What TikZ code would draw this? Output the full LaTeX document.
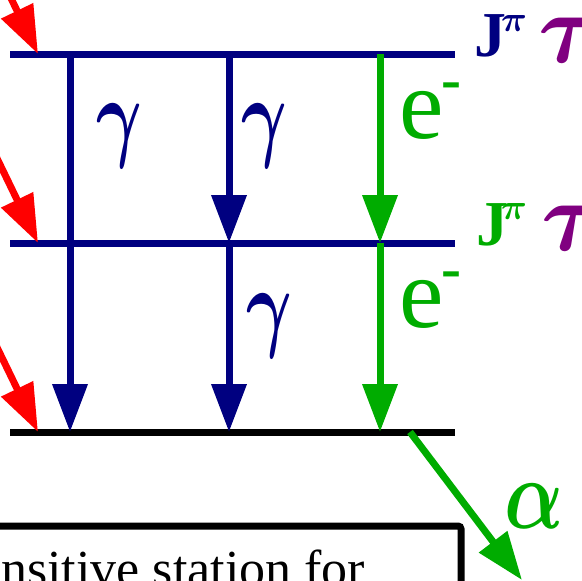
\RequirePackage{fix-cm}
\documentclass[tikz,border=0pt]{standalone}
\usepackage{bm}
\usepackage{graphicx}
\usepackage{fontspec}
\setmainfont{Liberation Serif}
\usetikzlibrary{arrows.meta}
\definecolor{navy}{RGB}{0,0,128}
\definecolor{grn}{RGB}{0,172,0}
\definecolor{purp}{RGB}{128,0,128}
\definecolor{rd}{RGB}{255,0,0}
\newcommand{\mygam}{\scalebox{0.7}[1]{$\bm{\gamma}$}}
\newcommand{\myalp}{\scalebox{0.78}[1]{$\bm{\alpha}$}}
\begin{document}
\begin{tikzpicture}[x=1pt,y=-1pt,
  level/.style={line width=7pt},
  tri/.style={line width=7pt,-{Triangle[length=48pt,width=34pt]}},
  big/.style={inner sep=0pt,anchor=base west,font=\fontsize{100}{100}\selectfont},
  sup/.style={inner sep=0pt,anchor=base west,font=\fontsize{60}{60}\selectfont\bfseries},
  jlab/.style={inner sep=0pt,anchor=base west,font=\fontsize{64}{64}\selectfont\bfseries},
  pilab/.style={inner sep=0pt,anchor=base west,font=\fontsize{36}{36}\selectfont},
  taulab/.style={inner sep=0pt,anchor=base west,font=\fontsize{100}{100}\selectfont}]
\useasboundingbox (0,0) rectangle (582,581);
\clip (0,0) rectangle (582,581);
% level coordinates
\coordinate (L1a) at (10,54);   \coordinate (L1b) at (455,54);
\coordinate (L2a) at (10,243);  \coordinate (L2b) at (455,243);
\coordinate (L3a) at (10,432);  \coordinate (L3b) at (455,432);
\coordinate (A1) at (70,54);    \coordinate (A3) at (70,432);
\coordinate (B1) at (229,54);   \coordinate (B2) at (229,243); \coordinate (B3) at (229,432);
\coordinate (C1) at (380,54);   \coordinate (C2) at (380,243); \coordinate (C3) at (380,432);
\coordinate (R1t) at (38,54);   \coordinate (R1s) at (-23,-72);
\coordinate (R2t) at (38,243);  \coordinate (R2s) at (-23,117);
\coordinate (R3t) at (38,432);  \coordinate (R3s) at (-23,306);
\coordinate (Da) at (410,432);  \coordinate (Db) at (522,580);
% levels
\draw[level,navy] (L1a) -- (L1b);
\draw[level,navy] (L2a) -- (L2b);
\draw[level,black] (L3a) -- (L3b);
% transitions
\draw[tri,navy] (A1) -- (A3);
\draw[tri,navy] (B1) -- (B2);
\draw[tri,navy] (B2) -- (B3);
\draw[tri,grn] (C1) -- (C2);
\draw[tri,grn] (C2) -- (C3);
\draw[tri,rd] (R1s) -- (R1t);
\draw[tri,rd] (R2s) -- (R2t);
\draw[tri,rd] (R3s) -- (R3t);
\draw[tri,grn] (Da) -- (Db);
% labels
\node[big,navy] (g1) at (96,148) {\mygam};
\node[big,navy] (g2) at (241,148) {\mygam};
\node[big,navy] (g3) at (246,338) {\mygam};
\node[big,grn] (e1) at (399,138) {e};
\node[sup,grn] (m1) at (441,99) {-};
\node[big,grn] (e2) at (399,327) {e};
\node[sup,grn] (m2) at (441,288) {-};
\node[jlab,navy] (j1) at (474,56) {J};
\node[pilab,navy] (p1) at (501,31) {$\bm{\pi}$};
\node[taulab,purp] (t1) at (538,62) {$\bm{\tau}$};
\node[jlab,grn] (j2) at (476,245) {J};
\node[pilab,grn] (p2) at (501,219) {$\bm{\pi}$};
\node[taulab,purp] (t2) at (541,250) {$\bm{\tau}$};
\node[big,grn] (al) at (504,528) {\myalp};
% box
\draw[line width=7pt,rounded corners=3pt] (-20,700) |- (461,526) -- (461,700);
\node[inner sep=0pt,anchor=base west,font=\fontsize{52}{52}\selectfont] (bt) at (1,586) {nsitive station for};
\end{tikzpicture}
\end{document}
